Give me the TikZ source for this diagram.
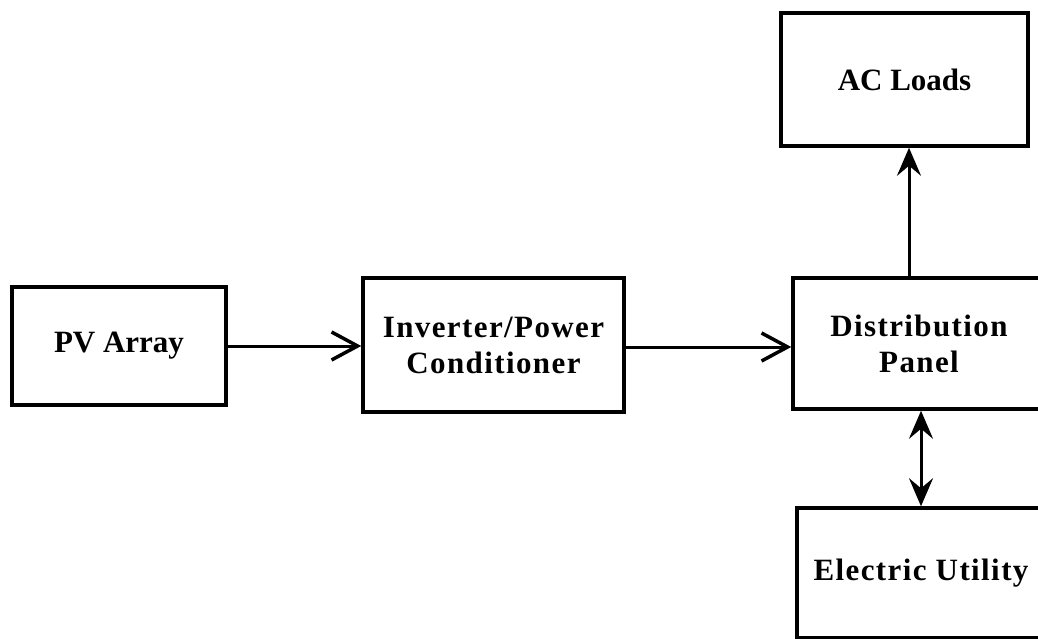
\documentclass[tikz,border=0pt]{standalone}
\usepackage{fontspec}
\setmainfont{Liberation Serif}
\newfontfamily\widefont[LetterSpace=4.5]{Liberation Serif}
\usetikzlibrary{arrows.meta}
\begin{document}
\begin{tikzpicture}[x=1pt,y=-1pt,
  blockbox/.style={draw, line width=3.5pt, inner sep=0pt, align=center,
    font=\widefont\bfseries\fontsize{31}{36}\selectfont},
  tightlabel/.style={font=\bfseries\fontsize{31}{36}\selectfont},
  flow/.style={line width=3pt, -{Straight Barb[length=26pt,width=28pt,line width=3.5pt]}},
  vflow/.style={line width=3pt, -{Stealth[length=28pt,width=24pt,inset=10pt]}},
  vboth/.style={line width=3pt, {Stealth[length=28pt,width=24pt,inset=10pt]}-{Stealth[length=28pt,width=24pt,inset=10pt]}}]
  \useasboundingbox (0,0) rectangle (1038,639);
  \clip (0,0) rectangle (1038,639);

  % blocks
  \node[blockbox, tightlabel, minimum width=214pt, minimum height=118pt] (pv) at (119,346) {PV Array};
  \node[blockbox, minimum width=261pt, minimum height=134pt] (inv) at (493.5,345) {Inverter/Power\\Conditioner};
  \node[blockbox, minimum width=252pt, minimum height=131pt] (dist) at (919,343.5) {Distribution\\Panel};
  \node[blockbox, tightlabel, minimum width=247pt, minimum height=133pt] (ac) at (904.5,79.5) {AC Loads};
  \node[blockbox, minimum width=248pt, minimum height=130pt] (util) at (921,573) {Electric Utility};

  % power flow
  \draw[flow] (pv.east) -- (pv.east -| inv.west);
  \draw[flow] (inv.east |- 0,347) -- (dist.west |- 0,347);
  \draw[vflow] ([xshift=-10pt]dist.north) -- ([xshift=-10pt]dist.north |- ac.south);
  \draw[vboth] (util.north |- dist.south) -- (util.north);
\end{tikzpicture}
\end{document}
